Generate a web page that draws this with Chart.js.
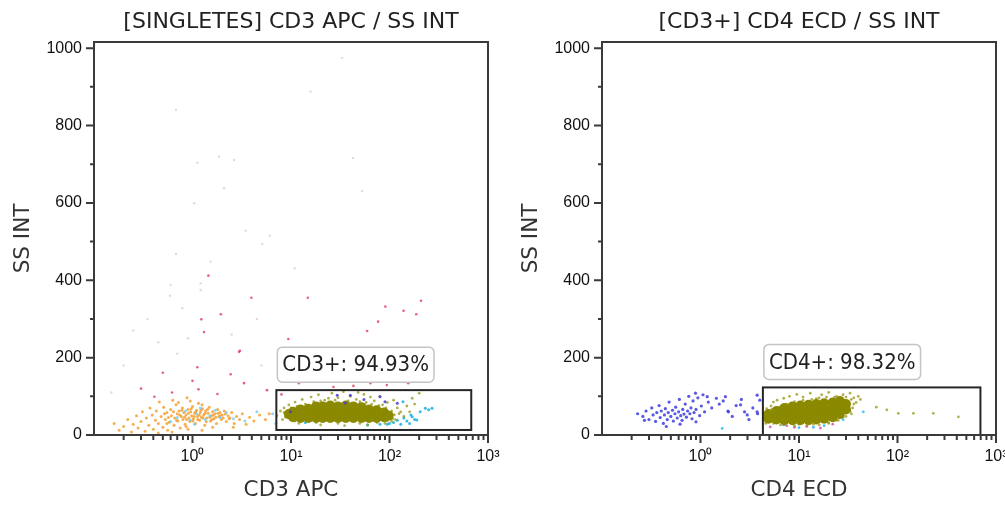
<!DOCTYPE html>
<html lang="pt-BR">
<head>
    <meta charset="UTF-8">
    <title>Citometria - CD3 / CD4</title>
    <style>
        body { margin: 0; background: #fff; }
        .row { display: flex; width: 1005px; height: 506px; }
        canvas { display: block; }
    </style>
</head>
<body>
    <div class="row">
        <canvas id="cd3Chart" width="500" height="506"></canvas>
        <canvas id="cd4Chart" width="505" height="506"></canvas>
    </div>

    <script src="https://cdn.jsdelivr.net/npm/chart.js"></script>
    <script>
        // Eixos
        const xTickValues = [1, 10, 100, 1000];
        const xTickLabels = ['10⁰', '10¹', '10²', '10³'];
        const xMinorTicks = [0.2, 0.3, 0.4, 0.5, 0.6, 0.7, 0.8, 0.9, 2, 3, 4, 5, 6, 7, 8, 9,
                             20, 30, 40, 50, 60, 70, 80, 90, 200, 300, 400, 500, 600, 700, 800, 900];
        const yTickValues = [0, 200, 400, 600, 800, 1000];
        const yMinorTicks = [100, 300, 500, 700, 900];

        // [SINGLETES] CD3 APC / SS INT  -- pontos [CD3 APC, SS INT]
        const cd3Core = [
            [9.5, 54], [10.5, 46], [10.5, 60], [12.5, 44], [12.5, 56], [12.5, 66],
            [15, 44], [15, 56], [15, 68], [18, 44], [18, 56], [18, 68], [18, 74],
            [21, 44], [21, 56], [21, 68], [21, 74], [25, 44], [25, 56], [25, 68], [25, 76],
            [30, 44], [30, 56], [30, 68], [30, 74], [36, 44], [36, 56], [36, 68], [36, 76],
            [43, 44], [43, 56], [43, 68], [43, 74], [52, 44], [52, 56], [52, 68], [52, 72],
            [62, 44], [62, 56], [62, 66], [74, 44], [74, 56], [74, 64],
            [88, 46], [88, 58], [98, 50]
        ];
        const cd3OliveScatter = [
            [7.2, 50], [7.8, 62], [8.2, 40], [8.5, 70], [9.5, 78], [11, 85], [13, 92], [16, 98],
            [19, 104], [22, 90], [26, 108], [30, 96], [34, 112], [40, 100], [46, 92], [55, 105],
            [64, 98], [70, 88], [80, 100], [95, 84], [110, 90], [120, 70], [130, 60], [150, 75],
            [170, 95], [200, 108], [12, 30], [20, 26], [35, 24], [60, 26], [90, 30], [105, 35],
            [115, 40], [125, 55], [140, 48], [24, 95], [48, 110], [85, 78], [160, 60], [180, 80],
            [10, 70], [11.5, 74], [14, 80], [17, 86], [20, 88], [28, 90], [38, 88], [50, 86],
            [58, 84], [66, 80], [78, 76], [92, 70], [105, 62], [112, 52], [108, 42], [95, 36],
            [75, 32], [50, 30], [30, 30], [18, 32], [11, 36], [8.8, 46], [8.5, 58]
        ];
        const cd3Orange = [
            [0.16, 30], [0.18, 12], [0.2, 22], [0.22, 40], [0.24, 8], [0.25, 28], [0.27, 50], [0.28, 18],
            [0.3, 35], [0.31, 60], [0.33, 10], [0.34, 44], [0.36, 25], [0.37, 70], [0.39, 52], [0.4, 15],
            [0.42, 38], [0.43, 62], [0.45, 30], [0.46, 85], [0.48, 48], [0.5, 20], [0.51, 72], [0.53, 40],
            [0.55, 58], [0.56, 12], [0.58, 33], [0.6, 66], [0.61, 50], [0.63, 90], [0.65, 25], [0.66, 44],
            [0.68, 78], [0.7, 55], [0.71, 36], [0.73, 62], [0.75, 18], [0.77, 48], [0.79, 70], [0.8, 40],
            [0.82, 58], [0.84, 28], [0.86, 52], [0.88, 96], [0.9, 66], [0.92, 44], [0.94, 35], [0.96, 60],
            [0.98, 50], [1.0, 74], [1.02, 42], [1.05, 56], [1.07, 30], [1.1, 64], [1.12, 48], [1.15, 82],
            [1.18, 38], [1.2, 58], [1.23, 46], [1.26, 68], [1.3, 52], [1.33, 25], [1.36, 62], [1.4, 44],
            [1.44, 56], [1.48, 72], [1.52, 36], [1.56, 50], [1.6, 60], [1.65, 42], [1.7, 55], [1.75, 30],
            [1.8, 66], [1.85, 48], [1.9, 58], [1.96, 40], [2.0, 52], [2.1, 62], [2.2, 35], [2.3, 50],
            [2.4, 44], [2.5, 58], [2.65, 30], [2.8, 48], [3.0, 40], [3.2, 55], [3.5, 28], [3.8, 46],
            [4.2, 36], [4.8, 52], [0.62, 8], [0.9, 15], [1.25, 12], [0.45, 5], [1.6, 20], [2.6, 20],
            [5.5, 40], [6.0, 55], [0.52, 55], [0.57, 45], [0.64, 60], [0.69, 38], [0.74, 52], [0.78, 64],
            [0.83, 46], [0.87, 40], [0.91, 56], [0.97, 68], [1.01, 36], [1.04, 48], [1.08, 60], [1.13, 40],
            [1.17, 52], [1.22, 64], [1.28, 44], [1.34, 56], [1.38, 34], [1.42, 66], [1.5, 46], [1.58, 40],
            [1.63, 52], [1.72, 46], [1.82, 56], [1.92, 50], [2.05, 44], [2.15, 54], [2.35, 42], [0.95, 88],
            [1.25, 78], [0.72, 84], [0.55, 30], [0.86, 22]
        ];
        const cd3CyanLight = [
            [0.7, 45], [0.85, 62], [0.95, 38], [1.1, 55], [1.2, 70], [1.35, 40], [1.5, 50], [1.7, 64],
            [1.9, 45], [2.2, 58], [2.6, 42], [3.4, 36], [1.05, 28], [0.6, 35], [4.5, 60], [7, 30], [6.5, 55]
        ];
        const cd3Cyan = [
            [110, 32], [120, 38], [130, 28], [140, 44], [150, 36], [160, 30], [165, 52], [100, 30],
            [95, 28], [180, 40], [205, 60], [250, 65], [80, 28], [60, 26], [14, 32], [10, 40],
            [189, 39], [170, 47], [270, 69], [231, 69], [137, 86]
        ];
        const cd3Blue = [
            [40, 103], [80, 99], [29.5, 103], [90, 86], [9.9, 60], [35.6, 83], [55, 92], [120, 82]
        ];
        const cd3Red = [
            [1.45, 412], [3.96, 355], [14.8, 355], [1.94, 312], [1.23, 299], [1.31, 266], [9.4, 248],
            [3.03, 218], [90.8, 332], [139, 321], [187, 312], [209, 347], [76.6, 293], [59.3, 269],
            [1.12, 175], [2.44, 157], [0.5, 161], [3.33, 134], [2.97, 215], [1.15, 118], [1.79, 106],
            [0.41, 99], [27, 124], [43, 127], [94, 129], [155, 134], [5.7, 116], [0.62, 110], [1.0, 140],
            [14, 150], [60, 160], [120, 140], [33, 140], [8, 105], [0.3, 120], [12, 134], [64, 134]
        ];
        const cd3Faint = [
            [1.12, 704], [1.86, 720], [2.64, 711], [2.09, 638], [1.04, 599], [3.47, 528], [6.1, 515],
            [5.1, 494], [0.68, 468], [1.53, 448], [10.9, 431], [42.7, 716], [52.7, 631], [0.6, 388],
            [0.59, 360], [1.21, 392], [1.21, 375], [0.79, 328], [33, 975], [15.8, 888], [0.68, 841],
            [0.35, 300], [0.25, 270], [0.45, 240], [0.2, 180], [0.7, 210], [2.5, 260], [4.5, 300],
            [0.15, 110], [0.9, 250], [5, 180], [20, 200], [70, 220]
        ];
        const cd3Gate = [7.1, 676, 13, 116];
        const cd3GateLabel = 'CD3+: 94.93%';

        // [CD3+] CD4 ECD / SS INT  -- pontos [CD4 ECD, SS INT]
        const cd4Core = [
            [4.9, 42], [4.9, 54], [5.9, 40], [5.9, 52], [5.9, 62], [7.1, 38], [7.1, 50], [7.1, 62], [7.1, 70],
            [8.6, 38], [8.6, 50], [8.6, 62], [8.6, 74], [10.3, 38], [10.3, 50], [10.3, 62], [10.3, 76],
            [12.5, 38], [12.5, 50], [12.5, 62], [12.5, 78], [15, 40], [15, 52], [15, 64], [15, 80],
            [18, 42], [18, 54], [18, 66], [18, 82], [22, 46], [22, 58], [22, 70], [22, 84],
            [26, 54], [26, 66], [26, 78], [26, 88], [30, 66], [30, 80]
        ];
        const cd4OliveScatter = [
            [4.6, 30], [4.7, 68], [5.2, 75], [5.5, 85], [6, 90], [7, 95], [8, 100], [9.5, 105],
            [11, 98], [13, 108], [15, 94], [17, 104], [20, 110], [23, 98], [28, 104], [33, 108],
            [36, 96], [38, 84], [40, 100], [42, 92], [35, 70], [34, 55], [30, 48], [6.5, 26],
            [9, 24], [12, 24], [16, 26], [20, 30], [25, 38], [61, 72], [78, 65], [102, 56],
            [145, 56], [231, 56], [415, 47], [4.5, 45], [4.6, 56], [5.3, 66], [6.3, 72], [7.5, 80],
            [9, 86], [11, 90], [13.5, 92], [16, 96], [19, 98], [24, 100], [30, 98], [34, 92],
            [36, 80], [33, 62], [28, 46], [24, 38], [20, 32], [14, 28], [10, 28], [7, 28], [5.5, 30]
        ];
        const cd4Blue = [
            [0.23, 55], [0.26, 48], [0.28, 62], [0.3, 40], [0.32, 70], [0.33, 52], [0.35, 35], [0.36, 58],
            [0.38, 76], [0.39, 45], [0.4, 62], [0.42, 30], [0.43, 52], [0.44, 68], [0.46, 40], [0.47, 58],
            [0.48, 85], [0.5, 48], [0.52, 64], [0.53, 36], [0.55, 55], [0.56, 72], [0.58, 44], [0.6, 60],
            [0.61, 92], [0.63, 50], [0.65, 38], [0.66, 66], [0.68, 54], [0.7, 80], [0.72, 46], [0.74, 62],
            [0.76, 100], [0.78, 55], [0.8, 70], [0.82, 42], [0.84, 88], [0.86, 58], [0.9, 66], [0.94, 96],
            [0.98, 50], [1.02, 75], [1.06, 104], [1.1, 60], [1.2, 85], [1.3, 70], [1.45, 95], [1.55, 80],
            [1.7, 88], [1.9, 62], [2.1, 48], [2.3, 76], [2.6, 92], [2.8, 60], [3.1, 40], [3.4, 70],
            [3.8, 55], [4.0, 90], [0.45, 22], [0.62, 28], [0.9, 34], [0.27, 38], [0.89, 108], [1.17, 99],
            [1.79, 99], [2.55, 78], [3.76, 103], [3.76, 60], [2.98, 52], [1.92, 60]
        ];
        const cd4Magenta = [[5.1, 21], [16.5, 18], [9, 20], [12, 22], [22, 28], [7.5, 24]];
        const cd4Cyan = [[14, 20], [18, 24], [7, 26], [28, 40], [45, 60], [1.66, 17], [10, 19]];
        const cd4Gate = [4.3, 695, 0, 123];
        const cd4GateLabel = 'CD4+: 98.32%';

        const FONT = '"DejaVu Sans", sans-serif';
        const LABEL_FONT = '22px "DejaVu Sans Condensed", "DejaVu Sans", sans-serif';
        const TICK_FONT = { family: '"Liberation Sans", Arial, sans-serif', size: 16 };

        function dots(data, color, radius, order) {
            return { data, backgroundColor: color, borderWidth: 0, pointRadius: radius, order };
        }

        // Moldura, marcas dos eixos, gate e título
        const cytoPlugin = {
            id: 'cyto',
            afterDraw(chart, args, opts) {
                const { ctx, chartArea: a, scales: { x, y } } = chart;
                ctx.save();

                const gx0 = x.getPixelForValue(opts.gate[0]);
                const gx1 = x.getPixelForValue(opts.gate[1]);
                const gy0 = y.getPixelForValue(opts.gate[2]);
                const gy1 = y.getPixelForValue(opts.gate[3]);
                ctx.strokeStyle = '#262626';
                ctx.lineWidth = 2;
                ctx.strokeRect(gx0, gy1, gx1 - gx0, gy0 - gy1);

                ctx.font = LABEL_FONT;
                const tw = ctx.measureText(opts.label).width;
                const bx = gx0 + 1, bh = 35, by = gy1 - 8 - bh;
                ctx.beginPath();
                ctx.roundRect(bx, by, tw + 10, bh, 5);
                ctx.fillStyle = '#fff';
                ctx.fill();
                ctx.strokeStyle = '#c4c4c4';
                ctx.lineWidth = 1.5;
                ctx.stroke();
                ctx.fillStyle = '#222';
                ctx.textBaseline = 'middle';
                ctx.textAlign = 'left';
                ctx.fillText(opts.label, bx + 5, by + bh / 2 + 1);

                ctx.strokeStyle = '#3a3a3a';
                ctx.lineWidth = 2;
                ctx.strokeRect(a.left, a.top, a.right - a.left, a.bottom - a.top);

                ctx.beginPath();
                yTickValues.forEach(v => {
                    const p = y.getPixelForValue(v);
                    ctx.moveTo(a.left - 8, p); ctx.lineTo(a.left, p);
                });
                yMinorTicks.forEach(v => {
                    const p = y.getPixelForValue(v);
                    ctx.moveTo(a.left - 4, p); ctx.lineTo(a.left, p);
                });
                xTickValues.forEach(v => {
                    const p = x.getPixelForValue(v);
                    ctx.moveTo(p, a.bottom); ctx.lineTo(p, a.bottom + 8);
                });
                xMinorTicks.forEach(v => {
                    const p = x.getPixelForValue(v);
                    ctx.moveTo(p, a.bottom); ctx.lineTo(p, a.bottom + 5);
                });
                ctx.stroke();

                ctx.font = '22px ' + FONT;
                ctx.fillStyle = '#222';
                ctx.textAlign = 'center';
                ctx.fillText(opts.title, (a.left + a.right) / 2, 22);
                ctx.restore();
            }
        };

        function makeChart(id, p) {
            return new Chart(document.getElementById(id), {
                type: 'scatter',
                data: { datasets: p.datasets },
                options: {
                    responsive: false,
                    animation: false,
                    events: [],
                    layout: { padding: { top: 42, right: p.padRight, bottom: 0, left: 0 } },
                    plugins: {
                        legend: { display: false },
                        tooltip: { enabled: false },
                        cyto: { title: p.title, gate: p.gate, label: p.label }
                    },
                    scales: {
                        x: {
                            type: 'logarithmic',
                            min: 0.1,
                            max: 1000,
                            afterBuildTicks: s => { s.ticks = xTickValues.map(v => ({ value: v })); },
                            afterFit: s => { s.height = 71; s.paddingLeft = 0; s.paddingRight = 0; },
                            grid: { display: true, drawOnChartArea: false, drawTicks: false },
                            border: { display: false },
                            ticks: {
                                autoSkip: false,
                                maxRotation: 0,
                                padding: 12,
                                color: '#111',
                                font: TICK_FONT,
                                callback: (v, i) => xTickLabels[i]
                            },
                            title: {
                                display: true,
                                text: p.xTitle,
                                color: '#333',
                                font: { family: FONT, size: 21.5 },
                                padding: { top: 0, bottom: 3 }
                            }
                        },
                        y: {
                            min: 0,
                            max: 1016,
                            afterBuildTicks: s => { s.ticks = yTickValues.map(v => ({ value: v })); },
                            afterFit: s => { s.width = p.axisWidth; s.paddingTop = 0; s.paddingBottom = 0; },
                            grid: { display: true, drawOnChartArea: false, drawTicks: false },
                            border: { display: false },
                            ticks: {
                                padding: 12,
                                color: '#111',
                                font: TICK_FONT,
                                callback: v => String(v)
                            },
                            title: {
                                display: true,
                                text: 'SS INT',
                                color: '#333',
                                font: { family: FONT, size: 21.5 },
                                padding: { top: p.yTitlePad, bottom: 0 }
                            }
                        }
                    }
                },
                plugins: [cytoPlugin]
            });
        }

        makeChart('cd3Chart', {
            title: '[SINGLETES] CD3 APC / SS INT',
            xTitle: 'CD3 APC',
            gate: cd3Gate,
            label: cd3GateLabel,
            axisWidth: 94,
            padRight: 12,
            yTitlePad: 11,
            datasets: [
                dots(cd3Blue, 'rgba(70,60,210,0.85)', 1.5, 1),
                dots(cd3Core, '#8b8900', 5, 2),
                dots(cd3OliveScatter, 'rgba(150,150,20,0.75)', 1.4, 3),
                dots(cd3Cyan, 'rgba(30,180,230,0.9)', 1.5, 4),
                dots(cd3CyanLight, 'rgba(110,205,240,0.8)', 1.5, 5),
                dots(cd3Orange, 'rgba(245,160,50,0.85)', 1.5, 6),
                dots(cd3Red, 'rgba(225,60,90,0.8)', 1.3, 7),
                dots(cd3Faint, 'rgba(215,160,175,0.45)', 1.2, 8)
            ]
        });

        makeChart('cd4Chart', {
            title: '[CD3+] CD4 ECD / SS INT',
            xTitle: 'CD4 ECD',
            gate: cd4Gate,
            label: cd4GateLabel,
            axisWidth: 102,
            padRight: 9,
            yTitlePad: 19,
            datasets: [
                dots(cd4Core, '#8b8900', 5, 1),
                dots(cd4OliveScatter, 'rgba(150,150,20,0.75)', 1.4, 2),
                dots(cd4Magenta, 'rgba(215,70,170,0.8)', 1.4, 3),
                dots(cd4Cyan, 'rgba(30,180,230,0.8)', 1.4, 4),
                dots(cd4Blue, 'rgba(60,60,225,0.85)', 1.6, 5)
            ]
        });
    </script>
</body>
</html>
